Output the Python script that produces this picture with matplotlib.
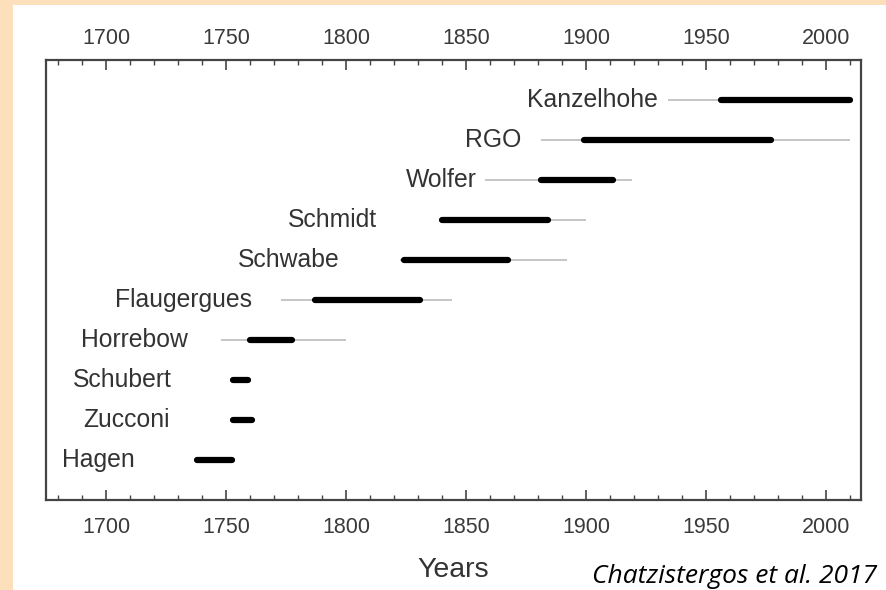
import matplotlib
matplotlib.use("Agg")
import matplotlib.pyplot as plt
from matplotlib.patches import Rectangle
from matplotlib.ticker import MultipleLocator

# observers, oldest at the bottom
observers = ["Hagen", "Zucconi", "Schubert", "Horrebow", "Flaugergues",
             "Schwabe", "Schmidt", "Wolfer", "RGO", "Kanzelhohe"]

# full record span (thin grey line)
full_start = [1738, 1753, 1753, 1748, 1773, 1822.5, 1840, 1858, 1881, 1934]
full_end = [1752.5, 1761, 1759, 1800, 1844, 1892, 1900, 1919, 2010, 2010]

# period actually used (thick black line)
used_start = [1738, 1753, 1753, 1760, 1787, 1824, 1840, 1881, 1899, 1956]
used_end = [1752.5, 1761, 1759, 1777.5, 1831, 1867.5, 1884, 1911, 1977, 2010]

# where each name ends (in years)
label_end = [1712, 1726.5, 1727.5, 1734, 1761, 1797.5, 1813, 1854.5, 1873, 1930]

year_ticks = [1700, 1750, 1800, 1850, 1900, 1950, 2000]

W, H = 887, 590
fig = plt.figure(figsize=(W / 100, H / 100), dpi=100)
fig.patch.set_facecolor("#fbe0bb")
# white card behind the plot
fig.patches.append(Rectangle((13 / W, 0), 1 - 13 / W, 585 / H,
                             transform=fig.transFigure, facecolor="white",
                             edgecolor="none", zorder=-10))

ax = fig.add_axes([46 / W, 90 / H, (861 - 46) / W, (500 - 60) / H])
ax.set_facecolor("white")

for i, name in enumerate(observers):
    ax.plot([full_start[i], full_end[i]], [i, i], color="#b5b5b5",
            lw=1.1, solid_capstyle="butt", zorder=2)
    ax.plot([used_start[i], used_end[i]], [i, i], color="black",
            lw=4.5, solid_capstyle="round", zorder=3)
    ax.text(label_end[i], i, name, ha="right", va="center",
            fontsize=17.8, color="#333333", family="Liberation Sans")

ax.set_xlim(1675, 2014.5)
ax.set_ylim(-1, 10)
ax.set_yticks([])

ax.set_xticks(year_ticks)
ax.xaxis.set_minor_locator(MultipleLocator(10))
ax.tick_params(axis="x", which="both", direction="in", top=True, bottom=True,
               labeltop=False, labelbottom=True, color="#444444",
               labelcolor="#3a3a3a", labelsize=15.5, pad=12)
ax.tick_params(axis="x", which="major", length=7, width=1.2)
ax.tick_params(axis="x", which="minor", length=3.5, width=1.0)
for lbl in ax.get_xticklabels():
    lbl.set_family("Liberation Sans")

# year labels along the top, a bit closer to the frame
top = ax.secondary_xaxis("top")
top.set_xticks(year_ticks)
top.tick_params(axis="x", length=0, pad=8, labelsize=15.5,
                labelcolor="#3a3a3a")
top.spines["top"].set_visible(False)
for lbl in top.get_xticklabels():
    lbl.set_family("Liberation Sans")

for s in ax.spines.values():
    s.set_color("#444444")
    s.set_linewidth(1.6)

ax.set_xlabel("Years", fontsize=20.5, color="#333333",
              family="Liberation Sans", labelpad=14)

fig.text(877 / W, 1 - 583 / H, "Chatzistergos et al. 2017", ha="right",
         va="baseline", fontsize=19, style="italic", color="black",
         family="Open Sans")

fig.savefig("out.png", dpi=100)
